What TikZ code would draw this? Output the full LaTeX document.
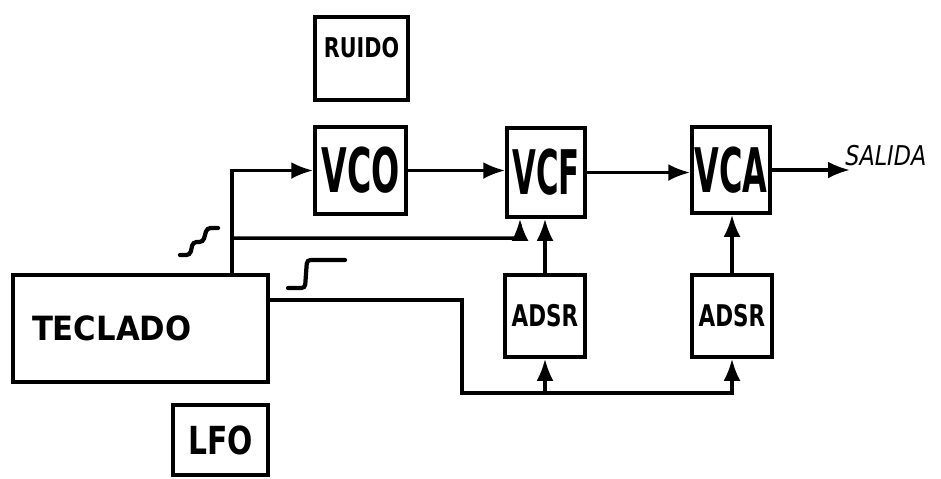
\documentclass[tikz,border=0pt]{standalone}
\usepackage{fontspec}
\setmainfont{DejaVu Sans}
\usepackage{graphicx}
\usetikzlibrary{
  arrows.meta,
  positioning,
}
\tikzset{
  blockBox/.style={
    rectangle, draw=black, line width=2pt, inner sep=0pt,
    align=center, font=\bfseries,
  },
  blockBig/.style={
    blockBox, font=\fontsize{35}{35}\selectfont\bfseries,
  },
  blockSmall/.style={
    blockBox, minimum width=1.6cm, minimum height=1.64cm,
    font=\fontsize{17}{17}\selectfont\bfseries,
  },
  arrowSig/.style={
    -{Latex[length=4.4mm,width=3.4mm]}, line width=2pt, draw=black,
  },
  stepSym/.style={
    line width=2.4pt, draw=black, rounded corners=2pt, line cap=round,
  },
}

\begin{document}
\begin{tikzpicture}[x=0.02cm, y=-0.02cm]
\useasboundingbox (0,0) rectangle (941,478);

% modules
\node[blockBox, minimum width=5.1cm, minimum height=2.14cm,
  text width=4.34cm, inner xsep=0.38cm, align=left,
  font=\fontsize{19}{19}\selectfont\bfseries]
  (teclado) at (140.5,328.5) {\scalebox{0.92}[1]{TECLADO}};
\node[blockBox, minimum width=1.86cm, minimum height=1.66cm,
  text depth=0.45cm, font=\fontsize{15.5}{15.5}\selectfont\bfseries]
  (ruido) at (361.5,58.5) {\scalebox{0.76}[1]{RUIDO}};
\node[blockBox, minimum width=1.9cm, minimum height=1.4cm,
  font=\fontsize{22}{22}\selectfont\bfseries]
  (lfo) at (220.5,440) {\scalebox{0.77}[1]{LFO}};

\node[blockBig, minimum width=1.82cm, minimum height=1.74cm]
  (vco) at (360.5,170.5) {\scalebox{0.54}[1]{VCO}};
\node[blockBig, minimum width=1.56cm, minimum height=1.78cm]
  (vcf) at (546,172.5) {\scalebox{0.5}[1]{VCF}};
\node[blockBig, minimum width=1.56cm, minimum height=1.72cm]
  (vca) at (731,170) {\scalebox{0.52}[1]{VCA}};

\node[blockSmall] (adsrF) at (545,316) {\scalebox{0.72}[1]{ADSR}};
\node[blockSmall] (adsrA) at (732,316) {\scalebox{0.72}[1]{ADSR}};

% output
\coordinate (salida) at (850,170);
\node[anchor=south west, inner sep=0pt,
  font=\fontsize{15.5}{15.5}\selectfont\itshape]
  (salidaTxt) at (845,166) {\scalebox{0.82}[1]{SALIDA}};

% keyboard taps
\coordinate (pitchOut) at (232,275);
\coordinate (pitchBr) at (232,238);
\coordinate (gateOut) at (268,300);
\coordinate (gateDn) at (462,393);

% audio path
\draw[arrowSig] (pitchOut) |- (vco.west);
\draw[arrowSig] (vco.east) -- (vcf.west |- vco.east);
\draw[arrowSig] (vcf.east) -- (vca.west |- vcf.east);
\draw[arrowSig] (vca.east) -- (salida);

% control path
\draw[arrowSig, rounded corners=3pt] (pitchBr) -| ([xshift=-0.52cm]vcf.south);
\draw[arrowSig] (adsrF.north) -- (adsrF.north |- vcf.south);
\draw[arrowSig] (adsrA.north) -- (adsrA.north |- vca.south);
\draw[arrowSig] (gateOut) -| (gateDn) -| (adsrA.south);
\draw[arrowSig] (adsrF.south |- gateDn) -- (adsrF.south);

% signal shapes
\draw[stepSym] (180,255) -- (190,255) -- (193,242) -- (203,242)
  -- (207,228) -- (218,228);
\draw[stepSym] (288,288) -- (305,288) -- (307,260) -- (345,260);

\end{tikzpicture}
\end{document}
